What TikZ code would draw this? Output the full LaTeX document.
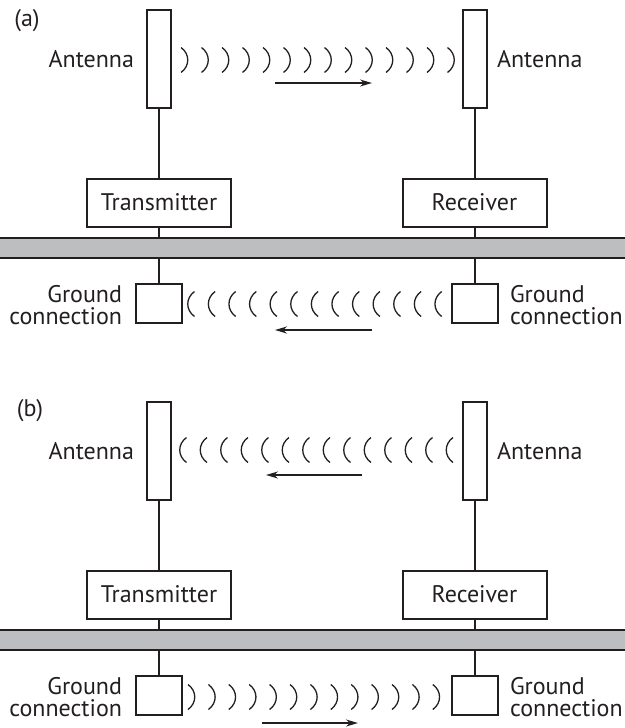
\documentclass[tikz,border=0pt]{standalone}
\usepackage{fontspec}
\setmainfont{PT Sans}
\usetikzlibrary{arrows.meta}
\definecolor{ink}{HTML}{231F20}
\definecolor{bargray}{HTML}{BCBEC0}
\begin{document}
\begin{tikzpicture}[x=1pt,y=-1pt,color=ink,line width=2pt,
  antenna/.style={draw,rectangle,minimum width=24pt,minimum height=98pt,inner sep=0pt},
  unit/.style={draw,rectangle,minimum width=144pt,minimum height=48pt,inner sep=0pt},
  gbox/.style={draw,rectangle,minimum width=46pt,minimum height=39pt,inner sep=0pt},
  lbl/.style={font=\fontsize{24}{28}\selectfont,inner sep=0pt},
  groundbar/.style={rectangle,fill=bargray,minimum width=640pt,minimum height=18pt,inner sep=0pt},
  wave/.style={line width=1.3pt},
  flow/.style={line width=1.6pt,-{Stealth[length=12pt,width=7pt]}}
]
\useasboundingbox (0,0) rectangle (624,728);

% ---------------- panel (a) ----------------
\begin{scope}
\node[lbl] (pa) at (27,21) {(a)};
\node[antenna] (antLa) at (159,59) {};
\node[antenna] (antRa) at (475,59) {};
\node[unit] (txa) at (159,203) {};
\node[unit] (rxa) at (474.5,203) {};
\node[lbl,anchor=base] (txta) at (159,210) {Transmitter};
\node[lbl,anchor=base] (rxta) at (474.5,210) {Receiver};
\node[groundbar] (bara) at (312,248) {};
\draw (bara.north west) -- (bara.north east);
\draw (bara.south west) -- (bara.south east);
\node[gbox] (gLa) at (159,303.5) {};
\node[gbox] (gRa) at (474.5,303.5) {};
\draw (antLa.south) -- (txa.north);
\draw (antRa.south) -- (antRa.south |- rxa.north);
\draw (txa.south) -- (txa.south |- bara.north);
\draw (rxa.south) -- (rxa.south |- bara.north);
\draw (gLa.north |- bara.south) -- (gLa.north);
\draw (gRa.north |- bara.south) -- (gRa.north);
\node[lbl,anchor=base east] (aLa) at (135,67) {Antenna};
\node[lbl,anchor=base west] (aRa) at (496,67) {Antenna};
\node[lbl,anchor=base east] (gLa1) at (123,302) {Ground};
\node[lbl,anchor=base east] (gLa2) at (123,324.5) {connection};
\node[lbl,anchor=base west] (gRa1) at (509,302) {Ground};
\node[lbl,anchor=base west] (gRa2) at (509,324.5) {connection};
\foreach \i in {0,...,13}{
  \pgfmathsetmacro{\e}{181+20.5*\i}
  \draw[wave] (\e,47.5) .. controls (\e+9,54) and (\e+9,66) .. (\e,72.5);
}
\foreach \i in {0,...,12}{
  \pgfmathsetmacro{\b}{188+20.6*\i}
  \draw[wave] (\b+6.5,291.5) .. controls (\b-2.5,298) and (\b-2.5,310) .. (\b+6.5,316.5);
}
\coordinate (ta1) at (275,83);
\coordinate (ta2) at (372,83);
\draw[flow] (ta1) -- (ta2);
\coordinate (ga1) at (372,330);
\coordinate (ga2) at (275,330);
\draw[flow] (ga1) -- (ga2);
\end{scope}

% ---------------- panel (b) ----------------
\begin{scope}[shift={(0,392)}]
\node[lbl] (pb) at (30,19) {(b)};
\node[antenna] (antLb) at (159,59) {};
\node[antenna] (antRb) at (475,59) {};
\node[unit] (txb) at (159,203) {};
\node[unit] (rxb) at (474.5,203) {};
\node[lbl,anchor=base] (txtb) at (159,210) {Transmitter};
\node[lbl,anchor=base] (rxtb) at (474.5,210) {Receiver};
\node[groundbar] (barb) at (312,248) {};
\draw (barb.north west) -- (barb.north east);
\draw (barb.south west) -- (barb.south east);
\node[gbox] (gLb) at (159,303.5) {};
\node[gbox] (gRb) at (474.5,303.5) {};
\draw (antLb.south) -- (txb.north);
\draw (antRb.south) -- (antRb.south |- rxb.north);
\draw (txb.south) -- (txb.south |- barb.north);
\draw (rxb.south) -- (rxb.south |- barb.north);
\draw (gLb.north |- barb.south) -- (gLb.north);
\draw (gRb.north |- barb.south) -- (gRb.north);
\node[lbl,anchor=base east] (aLb) at (135,67) {Antenna};
\node[lbl,anchor=base west] (aRb) at (496,67) {Antenna};
\node[lbl,anchor=base east] (gLb1) at (123,302) {Ground};
\node[lbl,anchor=base east] (gLb2) at (123,324.5) {connection};
\node[lbl,anchor=base west] (gRb1) at (509,302) {Ground};
\node[lbl,anchor=base west] (gRb2) at (509,324.5) {connection};
\foreach \i in {0,...,13}{
  \pgfmathsetmacro{\b}{180+20.5*\i}
  \draw[wave] (\b+6.5,45.5) .. controls (\b-2.5,52) and (\b-2.5,64) .. (\b+6.5,70.5);
}
\foreach \i in {0,...,12}{
  \pgfmathsetmacro{\e}{188+20.4*\i}
  \draw[wave] (\e,292.5) .. controls (\e+9,299) and (\e+9,311) .. (\e,317.5);
}
\coordinate (tb1) at (362,83);
\coordinate (tb2) at (266,83);
\draw[flow] (tb1) -- (tb2);
\coordinate (gb1) at (262,331);
\coordinate (gb2) at (358,331);
\draw[flow] (gb1) -- (gb2);
\end{scope}
\end{tikzpicture}
\end{document}
